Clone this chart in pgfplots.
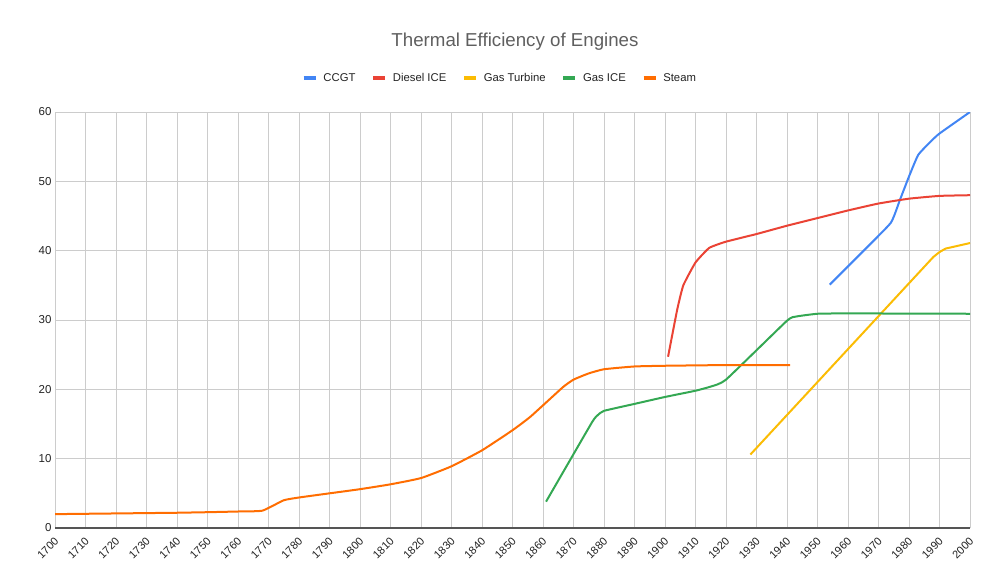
\documentclass[border=0pt]{standalone}
\usepackage{pgfplots}
\pgfplotsset{compat=1.18}
\usepackage{fontspec}
\setmainfont{Liberation Sans}
\definecolor{ccgt}{HTML}{4285F4}
\definecolor{diesel}{HTML}{EA4335}
\definecolor{gasturb}{HTML}{FBBC04}
\definecolor{gasice}{HTML}{34A853}
\definecolor{steam}{HTML}{FF6D01}
\definecolor{gridc}{HTML}{CCCCCC}
\definecolor{axisc}{HTML}{555555}
\definecolor{titlec}{HTML}{5F5F5F}
\definecolor{textc}{HTML}{222222}
\begin{document}
\begin{tikzpicture}
\useasboundingbox (0,0) rectangle (1000pt,587pt);
\begin{axis}[
  at={(55pt,59pt)}, anchor=south west,
  scale only axis, width=915pt, height=416pt,
  xmin=1700, xmax=2000, ymin=0, ymax=60,
  xtick={1700,1710,...,2000}, ytick={0,10,...,60},
  grid=major, major grid style={draw=gridc, line width=0.9pt},
  axis x line*=bottom, axis y line*=left,
  y axis line style={draw=none},
  x axis line style={draw=axisc, line width=1.4pt},
  major tick length=0pt,
  /pgf/number format/assume math mode=true,
  x tick label style={/pgf/number format/1000 sep={}, font=\fontsize{11}{13}\selectfont, text=textc,
     xshift=4pt, yshift=-9pt, rotate=45, anchor=east},
  y tick label style={font=\fontsize{11.5}{13}\selectfont, text=textc},
  legend style={at={(axis description cs:0.4863,1.0817)}, anchor=center, draw=none, fill=none,
     font=\fontsize{11.3}{13}\selectfont, text=textc,
     /tikz/every odd column/.append style={column sep=4pt},
     /tikz/every even column/.append style={column sep=14pt}},
  legend columns=5,
  legend image code/.code={\draw[#1, line width=3.5pt] (0pt,0pt) -- (12pt,0pt);},
  every axis plot/.append style={line width=2pt, smooth, tension=0.25},
]
\addplot[ccgt] coordinates {(1954,35.1) (1964,39.5) (1974,44.0) (1977,47.3) (1980,50.7) (1983,53.8) (1987,55.7) (1990,56.9) (2000,60.0)};
\addlegendentry{CCGT}
\addplot[diesel] coordinates {(1901,24.7) (1904,31.5) (1906,35.0) (1910,38.3) (1914.5,40.4) (1920,41.3) (1930,42.4) (1940,43.6) (1950,44.7) (1960,45.8) (1970,46.8) (1980,47.5) (1990,47.9) (2000,48.0)};
\addlegendentry{Diesel ICE}
\addplot[gasturb, sharp plot] coordinates {(1928,10.6) (1988,39.1) (1990,39.8) (1992,40.3) (1995,40.6) (2000,41.1)};
\addlegendentry{Gas Turbine}
\addplot[gasice] coordinates {(1861,3.8) (1876,15.2) (1878,16.3) (1880,16.9) (1890,17.9) (1900,18.9) (1910,19.8) (1915,20.4) (1920,21.4) (1940,29.9) (1943,30.5) (1950,30.9) (1960,30.95) (2000,30.9)};
\addlegendentry{Gas ICE}
\addplot[steam] coordinates {(1700,2.0) (1710,2.05) (1720,2.1) (1730,2.15) (1740,2.2) (1750,2.28) (1760,2.38) (1768,2.5) (1775,4.0) (1780,4.4) (1790,5.0) (1800,5.6) (1810,6.3) (1820,7.2) (1830,8.9) (1840,11.2) (1850,14.1) (1856,16.1) (1866.5,20.3) (1870,21.4) (1875,22.3) (1880,22.9) (1890,23.3) (1900,23.4) (1920,23.5) (1941,23.5)};
\addlegendentry{Steam}
\end{axis}
\node[text=titlec, font=\fontsize{18.7}{22}\selectfont] at (515pt,545pt) {Thermal Efficiency of Engines};
\end{tikzpicture}
\end{document}
